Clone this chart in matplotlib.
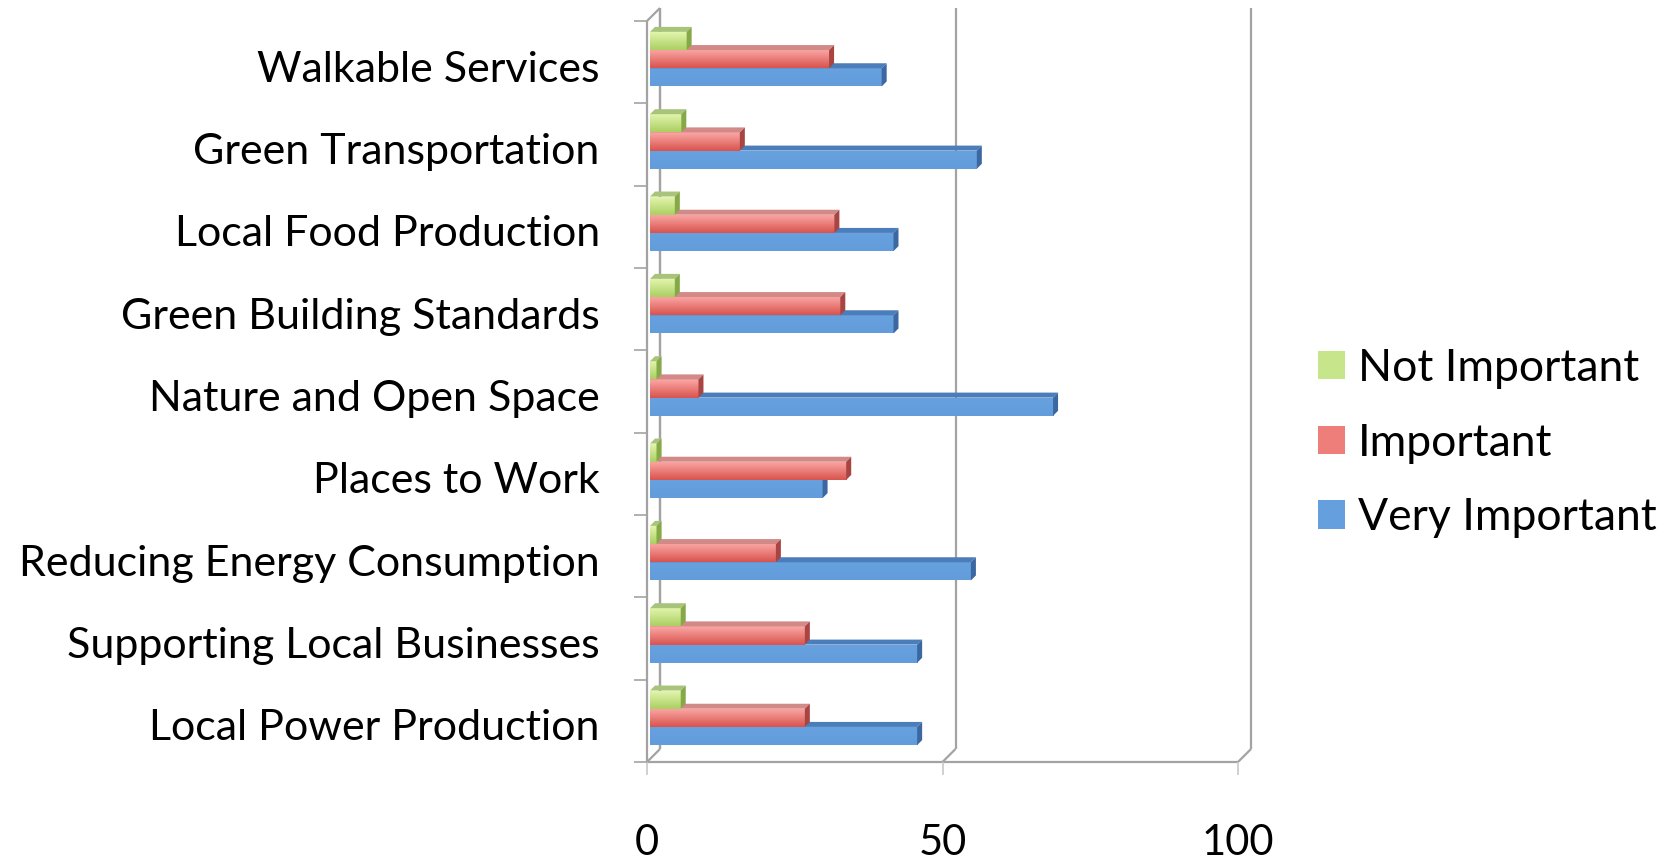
import matplotlib.pyplot as plt
import numpy as np
from matplotlib import transforms
from matplotlib.colors import LinearSegmentedColormap
from matplotlib.patches import Patch, Polygon

categories = ["Walkable Services", "Green Transportation", "Local Food Production",
              "Green Building Standards", "Nature and Open Space", "Places to Work",
              "Reducing Energy Consumption", "Supporting Local Businesses",
              "Local Power Production"]
not_important = [6.2, 5.3, 4.2, 4.2, 1.1, 1.1, 1.1, 5.2, 5.2]
important = [30.3, 15.2, 31.2, 32.2, 8.2, 33.2, 21.3, 26.2, 26.2]
very_important = [39.2, 55.3, 41.2, 41.2, 68.2, 29.2, 54.3, 45.2, 45.2]
series_names = ["Not Important", "Important", "Very Important"]
x_ticks = [0, 50, 100]

plt.rcParams["font.family"] = ["Lato", "DejaVu Sans"]

fig = plt.figure(figsize=(16.64, 8.61), dpi=100)
ax = fig.add_axes([647 / 1664, 99 / 861, 591 / 1664, 741 / 861])
n = len(categories)
ux = ax.bbox.width / 100   # pixels per x unit
uy = ax.bbox.height / n     # pixels per category band

# depth of the fake 3d box and of the bars, in pixels -> data units
dx, dy = 13 / ux, 13 / uy
bdx, bdy = 5 / ux, 5 / uy
x0 = 3 / ux

wall = dict(color="#A3A3A3", lw=1.6, clip_on=False, zorder=1, solid_capstyle="butt")
ax.plot([0, 0], [0, n], **wall)
ax.plot([dx, dx], [dy, n + dy], **wall)
ax.plot([0, dx], [n, n + dy], **wall)
ax.plot([0, 100], [0, 0], **wall)
for t in x_ticks:
    ax.plot([t, t + dx], [0, dy], **wall)
    ax.plot([t + dx, t + dx], [dy, n + dy], **wall)

# style per series: front top colour, front bottom colour, top face, side face
styles = {
    "Very Important": ("#67A1DF", "#629CDB", "#4A7DBA", "#3C68A2"),
    "Important": ("#FBA9A6", "#D9534E", "#D18A88", "#A84543"),
    "Not Important": ("#E5F7B0", "#ABCF62", "#A8C47A", "#86A947"),
}
offsets = {"Very Important": 0.205, "Important": 0.426, "Not Important": 0.647}
values = {"Very Important": very_important, "Important": important,
          "Not Important": not_important}
bar_h = 0.221
band = np.arange(n)[::-1]

for z, name in enumerate(["Very Important", "Important", "Not Important"]):
    top_c, bot_c, face_c, side_c = styles[name]
    cmap = LinearSegmentedColormap.from_list(name, [bot_c, top_c])
    bars = ax.barh(band + offsets[name], values[name], height=bar_h, left=x0,
                   align="edge", color=bot_c, lw=0, zorder=3 + z)
    for rect in bars:
        x, y = rect.get_x(), rect.get_y()
        w, h = rect.get_width(), rect.get_height()
        img = ax.imshow(np.linspace(0, 1, 64).reshape(-1, 1), cmap=cmap,
                        aspect="auto", origin="lower", extent=[x, x + w, y, y + h],
                        interpolation="bicubic", zorder=3 + z)
        img.set_clip_path(rect)
        ax.add_patch(Polygon([(x, y + h), (x + w, y + h), (x + w + bdx, y + h + bdy),
                              (x + bdx, y + h + bdy)], closed=True, fc=face_c,
                             lw=0, zorder=3 + z))
        ax.add_patch(Polygon([(x + w, y), (x + w, y + h), (x + w + bdx, y + h + bdy),
                              (x + w + bdx, y + bdy)], closed=True, fc=side_c,
                             lw=0, zorder=3 + z))

ax.set_xlim(0, 100)
ax.set_ylim(0, n)
for s in ax.spines.values():
    s.set_visible(False)

ax.set_yticks(np.arange(n + 1))
ax.set_yticklabels([])
ax.set_yticks(band + 0.5, minor=True)
ax.set_yticklabels(categories, minor=True)
ax.tick_params(axis="y", which="major", length=9.4, width=1.2, color="#A3A3A3")
ax.tick_params(axis="y", which="minor", length=0, pad=34, labelsize=31)
shift = transforms.ScaledTranslation(0, -4 / 100, fig.dpi_scale_trans)
for lab in ax.get_yticklabels(minor=True):
    lab.set_transform(lab.get_transform() + shift)

ax.set_xticks(x_ticks)
ax.tick_params(axis="x", length=9.4, width=1.2, color="#C8C8C8", pad=35, labelsize=30)

handles = [Patch(facecolor=c, edgecolor="none") for c in ["#C7E58A", "#EE7E7A", "#659FDD"]]
fig.legend(handles, series_names, loc="center left",
           bbox_to_anchor=(1318 / 1664, 1 - 443 / 861), frameon=False,
           borderpad=0, borderaxespad=0, handlelength=0.6, handleheight=0.6,
           handletextpad=0.3, labelspacing=0.76, fontsize=32)

fig.savefig("out.png", dpi=100)
